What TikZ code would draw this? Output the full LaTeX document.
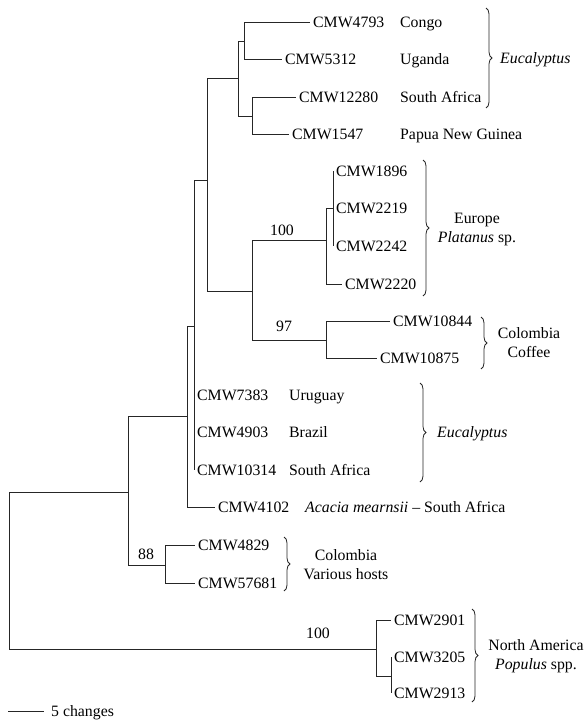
\documentclass[tikz,border=0pt]{standalone}
\usepackage{fontspec}
\setmainfont{Liberation Serif}
\usetikzlibrary{decorations.pathreplacing}
\begin{document}
\begin{tikzpicture}[x=1pt,y=-1pt,
  br/.style={line width=1pt, black!85},
  txt/.style={font=\fontsize{15.8}{19}\selectfont},
  leaf/.style={txt, anchor=west, inner xsep=3pt, inner ysep=0pt, text height=10.5pt, text depth=0pt},
  info/.style={txt, anchor=west, inner sep=0pt, text height=10.5pt, text depth=0pt},
  grp/.style={txt, align=center, inner sep=0pt},
  boot/.style={txt, inner sep=0pt},
  brc/.style={decorate, decoration={brace, amplitude=6pt}, line width=0.8pt, black!85}]
\useasboundingbox (0,0) rectangle (585,720);

% leaves
\node[leaf] (l0) at (310,22) {CMW4793};
\node[leaf] (l1) at (282,59.5) {CMW5312};
\node[leaf] (l2) at (296,97) {CMW12280};
\node[leaf] (l3) at (289,134) {CMW1547};
\node[leaf] (l4) at (333,171) {CMW1896};
\node[leaf] (l5) at (333,208) {CMW2219};
\node[leaf] (l6) at (333,246) {CMW2242};
\node[leaf] (l7) at (342,284) {CMW2220};
\node[leaf] (l8) at (390,321) {CMW10844};
\node[leaf] (l9) at (377,358) {CMW10875};
\node[leaf] (l10) at (194,395) {CMW7383};
\node[leaf] (l11) at (194,432) {CMW4903};
\node[leaf] (l12) at (194,470) {CMW10314};
\node[leaf] (l13) at (215,507) {CMW4102};
\node[leaf] (l14) at (195,545) {CMW4829};
\node[leaf] (l15) at (195,583) {CMW57681};
\node[leaf] (l16) at (391,620) {CMW2901};
\node[leaf] (l17) at (391,657) {CMW3205};
\node[leaf] (l18) at (391,693) {CMW2913};

% internal nodes
\coordinate (F) at (244,41);
\coordinate (G) at (252,116);
\coordinate (E) at (238,78);
\coordinate (J) at (333,208);
\coordinate (I) at (326,240);
\coordinate (K) at (326,340);
\coordinate (H) at (252,291);
\coordinate (D) at (207,180);
\coordinate (C) at (194,326);
\coordinate (B) at (187,416);
\coordinate (N) at (165,565);
\coordinate (A) at (128,492);
\coordinate (M) at (391,676);
\coordinate (L) at (376,649);
\coordinate (R) at (9,570);

% branches
\draw[br] (F) |- (l0.west);
\draw[br] (F) |- (l1.west);
\draw[br] (G) |- (l2.west);
\draw[br] (G) |- (l3.west);
\draw[br] (E) |- (F);
\draw[br] (E) |- (G);
\draw[br] (J) |- (l4.west);
\draw[br] (J) |- (l5.west);
\draw[br] (J) |- (l6.west);
\draw[br] (I) |- (J);
\draw[br] (I) |- (l7.west);
\draw[br] (K) |- (l8.west);
\draw[br] (K) |- (l9.west);
\draw[br] (H) |- (I);
\draw[br] (H) |- (K);
\draw[br] (D) |- (E);
\draw[br] (D) |- (H);
\draw[br] (C) |- (D);
\draw[br] (C) |- (l10.west);
\draw[br] (C) |- (l11.west);
\draw[br] (C) |- (l12.west);
\draw[br] (B) |- (C);
\draw[br] (B) |- (l13.west);
\draw[br] (N) |- (l14.west);
\draw[br] (N) |- (l15.west);
\draw[br] (A) |- (B);
\draw[br] (A) |- (N);
\draw[br] (M) |- (l17.west);
\draw[br] (M) |- (l18.west);
\draw[br] (L) |- (l16.west);
\draw[br] (L) |- (M);
\draw[br] (R) |- (A);
\draw[br] (R) |- (L);

% origins
\node[info] (c0) at (400,22) {Congo};
\node[info] (c1) at (400,59.5) {Uganda};
\node[info] (c2) at (400,97) {South Africa};
\node[info] (c3) at (400,134) {Papua New Guinea};
\node[info] (c10) at (289,395) {Uruguay};
\node[info] (c11) at (289,432) {Brazil};
\node[info] (c12) at (289,470) {South Africa};
\node[info] (c13) at (305,507) {\textit{Acacia mearnsii} -- South Africa};

% bootstrap values
\node[boot] (s100a) at (282,230) {100};
\node[boot] (s97) at (284,326) {97};
\node[boot] (s88) at (146,554) {88};
\node[boot] (s100b) at (318,633) {100};

% braces and group labels
\coordinate (b1t) at (486,8);   \coordinate (b1b) at (486,108);
\coordinate (b2t) at (423,160); \coordinate (b2b) at (423,296);
\coordinate (b3t) at (481,317); \coordinate (b3b) at (481,369);
\coordinate (b4t) at (420,383); \coordinate (b4b) at (420,482);
\coordinate (b5t) at (284,537); \coordinate (b5b) at (284,591);
\coordinate (b6t) at (472,609); \coordinate (b6b) at (472,702);
\draw[brc] (b1t) -- (b1b);
\draw[brc] (b2t) -- (b2b);
\draw[brc] (b3t) -- (b3b);
\draw[brc] (b4t) -- (b4b);
\draw[brc] (b5t) -- (b5b);
\draw[brc] (b6t) -- (b6b);
\node[info] (g1) at (500,58) {\textit{Eucalyptus}};
\node[grp] (g2) at (477,230) {Europe\\\textit{Platanus} sp.};
\node[grp] (g3) at (529,343) {Colombia\\Coffee};
\node[info] (g4) at (437,432) {\textit{Eucalyptus}};
\node[grp] (g5) at (346,565) {Colombia\\Various hosts};
\node[grp] (g6) at (536,656) {North America\\\textit{Populus} spp.};

% scale bar
\coordinate (s1) at (8,711);
\coordinate (s2) at (44,711);
\draw[br] (s1) -- (s2);
\node[info] (sc) at (51,711) {5 changes};
\end{tikzpicture}
\end{document}
